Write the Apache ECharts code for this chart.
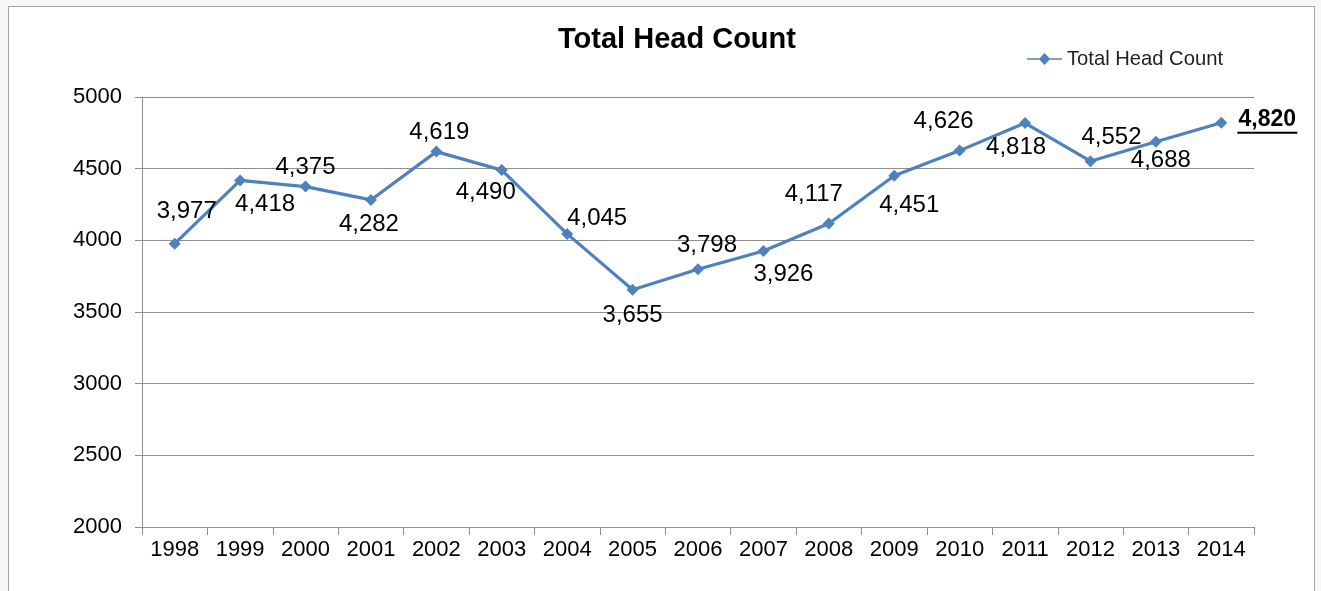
<!DOCTYPE html>
<html>
<head>
<meta charset="utf-8">
<script src="https://cdn.jsdelivr.net/npm/echarts@6/dist/echarts.min.js"></script>
<style>
html,body{margin:0;padding:0;background:#f7f7f7;}
#frame{position:absolute;left:8px;top:6px;width:1305px;height:600px;border:1px solid #a6a6a6;background:#fff;}
#chart{position:absolute;left:0;top:0;width:1321px;height:591px;}
</style>
</head>
<body>
<div id="frame"></div>
<div id="chart"></div>
<script>
const years = ['1998','1999','2000','2001','2002','2003','2004','2005','2006','2007','2008','2009','2010','2011','2012','2013','2014'];
const headCount = [3977,4418,4375,4282,4619,4490,4045,3655,3798,3926,4117,4451,4626,4818,4552,4688,4820];
const yTicks = {min:2000, max:5000, interval:500};

// label offsets (style only)
const labelOffsets = [[12,-32],[25,24],[0,-19],[-2,24],[3,-19],[-16,22],[30,-16],[0,26],[9,-24],[20,23],[-15,-29],[15,30],[-16,-29],[-9,24],[21,-24],[5,19],[46,-2]];

const fmt = v => v.toLocaleString('en-US');
const seriesData = headCount.map((v,i) => {
  const last = i === headCount.length-1;
  return {
    value: v,
    label: last ? {
      position:'inside', offset: labelOffsets[i],
      formatter: '{v|' + fmt(v) + '}\n{u|}',
      rich: {
        v:{fontSize:23,fontWeight:'bold',color:'#000',fontFamily:'Liberation Sans',lineHeight:24},
        u:{width:60,height:2,backgroundColor:'#000',lineHeight:2}
      }
    } : {position:'inside', offset: labelOffsets[i]}
  };
});

const chart = echarts.init(document.getElementById('chart'));
chart.setOption({
  backgroundColor:'transparent',
  animation:false,
  title:{text:'Total Head Count',left:672,top:20,textAlign:'center',
    textStyle:{fontFamily:'Liberation Sans',fontSize:29,fontWeight:'bold',color:'#000'}},
  legend:{left:1022,top:44,itemWidth:35,itemHeight:12,itemGap:0,
    textStyle:{fontFamily:'Liberation Sans',fontSize:20.2,color:'#222'},
    data:[{name:'Total Head Count',icon:'path://M0,5.2L12.5,5.2L17.5,0L22.5,5.2L35,5.2L35,6.8L22.5,6.8L17.5,12L12.5,6.8L0,6.8Z'}]},
  grid:{left:142,right:67,top:97,bottom:64},
  xAxis:{type:'category',data:years,boundaryGap:true,
    axisLine:{lineStyle:{color:'#8f8f8f'}},
    axisTick:{show:true,length:8,lineStyle:{color:'#8f8f8f'}},
    axisLabel:{fontFamily:'Liberation Sans',fontSize:22,color:'#000',margin:12}},
  yAxis:{type:'value',min:yTicks.min,max:yTicks.max,interval:yTicks.interval,
    axisLine:{show:true,lineStyle:{color:'#8f8f8f'}},
    axisTick:{show:true,length:7,lineStyle:{color:'#8f8f8f'}},
    axisLabel:{fontFamily:'Liberation Sans',fontSize:22,color:'#000',margin:20,formatter:v=>String(v)},
    splitLine:{lineStyle:{color:'#8f8f8f',width:1}}},
  series:[{
    name:'Total Head Count',type:'line',data:seriesData,
    symbol:'diamond',symbolSize:12,
    lineStyle:{color:'#4f81bd',width:3.2},
    itemStyle:{color:'#4f81bd'},
    label:{show:true,fontFamily:'Liberation Sans',fontSize:24,color:'#000',formatter:p=>fmt(p.value)}
  }]
});
</script>
</body>
</html>
